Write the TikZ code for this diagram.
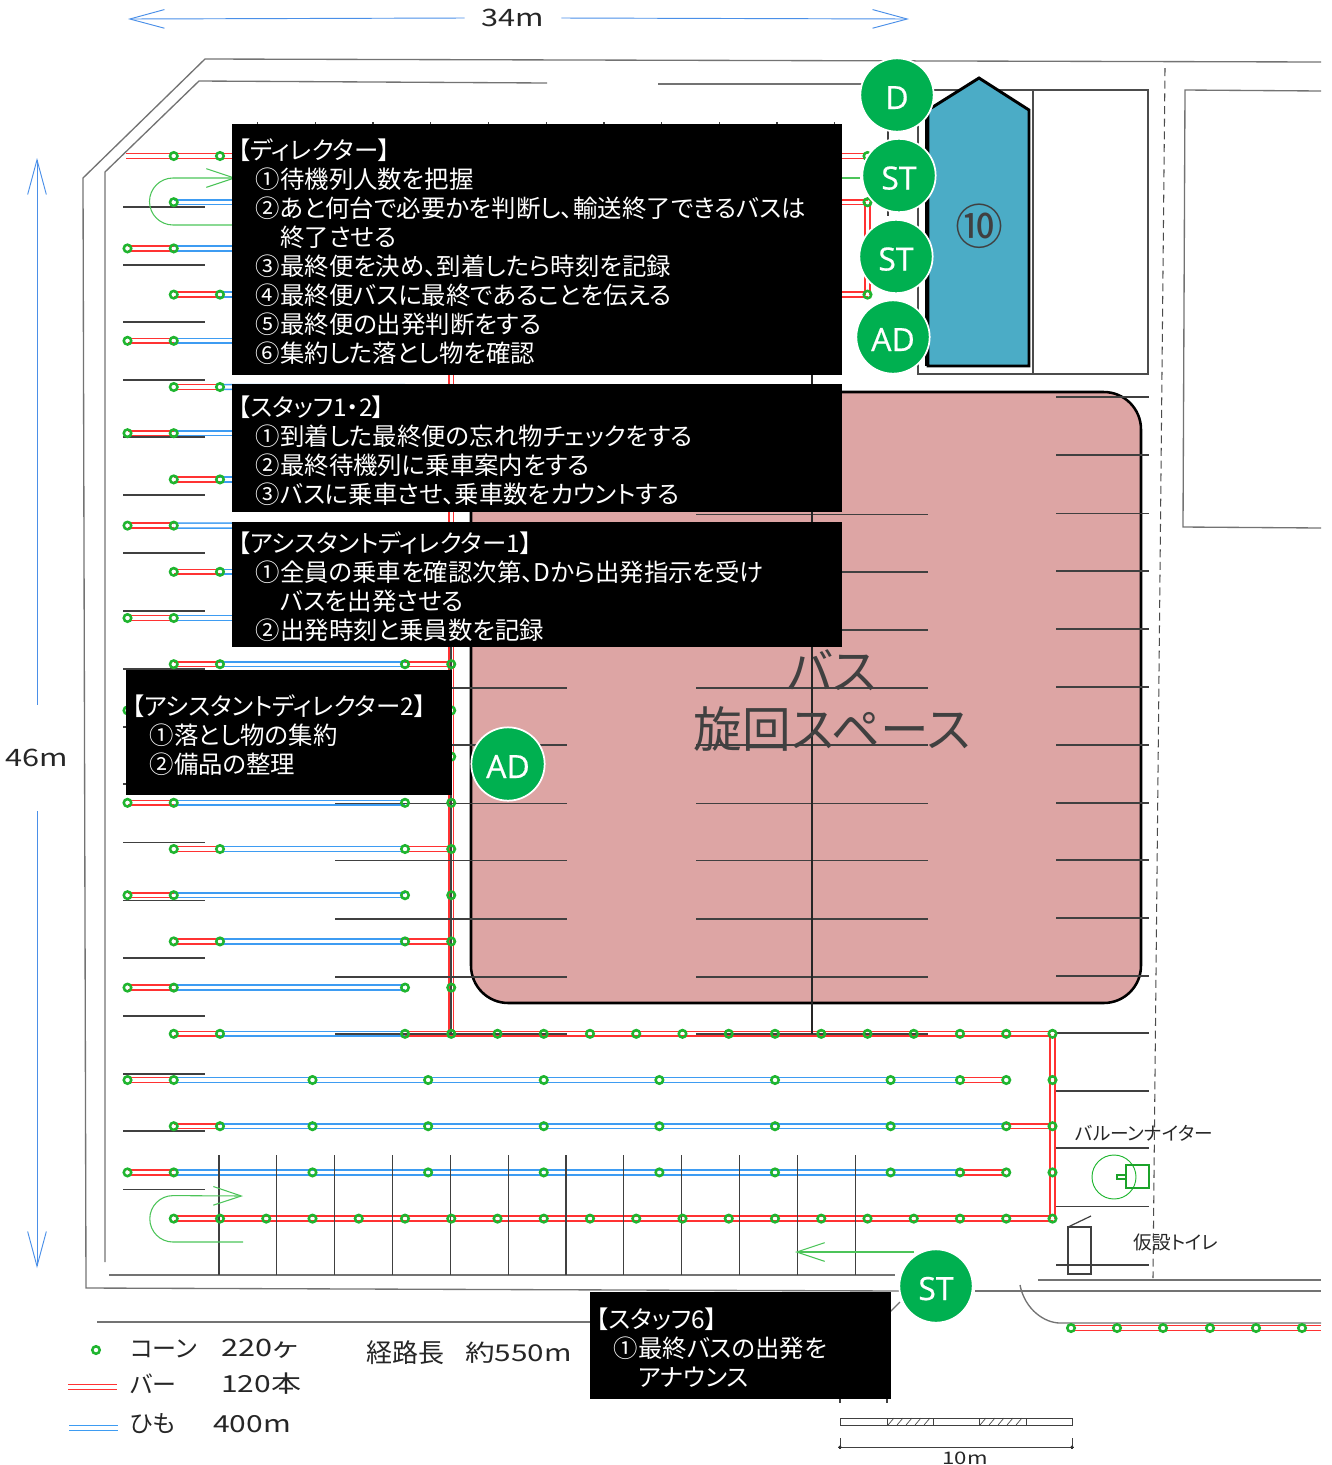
\documentclass[tikz,border=0pt]{standalone}
\usepackage{fontspec}
\setmainfont[RawFeature=+palt]{Noto Sans CJK JP}
\newfontfamily\widefont[RawFeature=+palt,FakeStretch=1.28]{Noto Sans CJK JP}
\newfontfamily\staffont[FakeBold=0.5]{Open Sans}
\usetikzlibrary{arrows.meta}
\definecolor{turnpink}{HTML}{DDA5A4}
\definecolor{busblue}{HTML}{4BACC6}
\definecolor{staffgreen}{HTML}{00B050}
\definecolor{conegreen}{HTML}{1FB52F}
\definecolor{laneblue}{HTML}{3E9CF2}
\definecolor{barred}{HTML}{FF3232}
\definecolor{dimblue}{HTML}{4A8FE8}
\definecolor{inkgray}{HTML}{404040}
\tikzset{
  cone node/.style={circle,draw=conegreen,line width=1.9pt,minimum size=5.6pt,inner sep=0pt},
  staff node/.style={circle,fill=staffgreen,draw=white,line width=1.3pt,minimum size=55pt,inner sep=0pt,text=white,text height=21pt,text depth=0pt,font=\staffont\fontsize{24}{24}\selectfont},
  note box/.style={fill=black,text=white,align=left,anchor=north west,inner xsep=4.5pt,inner ysep=0pt,font=\fontsize{18.3}{21.75}\selectfont},
  bar line/.style={draw=barred,double=white,line width=1.15pt,double distance=2.5pt},
  cord line/.style={draw=laneblue,double=white,line width=1.15pt,double distance=2.5pt},
  lot line/.style={draw=black!75,line width=.9pt},
  site line/.style={draw=black!55,line width=1pt},
  lane line/.style={draw=conegreen!80,line width=.8pt},
  lane arrow/.style={lane line,-{Straight Barb[length=21pt,width=14pt]}},
  dim arrow/.style={draw=dimblue,line width=.7pt,-{Straight Barb[length=26pt,width=14pt]}},
  dim text/.style={text=black!85,inner sep=0pt,font=\widefont\fontsize{18}{18}\selectfont},
  plain text/.style={text=black!85,inner sep=0pt,anchor=west,font=\fontsize{18}{18}\selectfont},
}
\pgfdeclarelayer{under}
\pgfsetlayers{under,main}
% columns step 23.125, rows step 46.2
\newcommand{\conerow}[2]{\foreach \c in {#2} \node[cone node] (c#1-\c) at (127.5+23.125*\c,156+46.2*#1) {};}
\newcommand{\barrun}[3]{\draw[bar line] (c#1-#2.center) -- (c#1-#3.center);}
\newcommand{\cordrun}[3]{\draw[cord line] (c#1-#2.center) -- (c#1-#3.center);}
\newcommand{\notehead}[1]{\rule{0pt}{19pt}#1}
\newcommand{\indA}{\hspace*{.72em}}
\newcommand{\indB}{\hspace*{1.72em}}

\begin{document}
\begin{tikzpicture}[x=.75pt,y=-.75pt]
    \useasboundingbox (0,0) rectangle (1332,1465);
    % Cones
    \conerow{0}{2,4,32}
    \conerow{1}{2,12,32}
    \conerow{3}{2,4,12,14,32}
    \foreach \r in {2,4,6,10,14,16,18} {\conerow{\r}{0,2,12}}
    \foreach \r in {7,9} {\conerow{\r}{2,4,12}}
    \conerow{5}{2,4}
    \conerow{8}{0,2}
    \foreach \r in {11,15,17} {\conerow{\r}{2,4,12,14}}
    \conerow{12}{0,14}
    \conerow{13}{14}
    \conerow{14}{14}
    \conerow{16}{14}
    \conerow{18}{14}
    \conerow{19}{2,4,12,14,16,18,20,22,24,26,28,30,32,34,36,38,40}
    \conerow{20}{0,2,8,13,18,23,28,33,36,38,40}
    \conerow{21}{2,4,8,13,18,23,28,33,38,40}
    \conerow{22}{0,2,8,13,18,23,28,33,36,38,40}
    \conerow{23}{2,4,6,8,10,12,14,16,18,20,22,24,26,28,30,32,34,36,38,40}
    \foreach \n/\x in {1/1071,2/1117,3/1163,4/1210,5/1256,6/1302}
        \node[cone node] (d\n) at (\x,1328) {};
    \coordinate (rowtop) at (126,156);
    \coordinate (rowend) at (1321,1328);
    \coordinate (c5-12) at (405,387);
    \coordinate (c8-12) at (405,525.6);

    \begin{pgfonlayer}{under}
        % Site
        \draw[site line] (1321,62) -- (205,59) -- (83,178) -- (86,1288) -- (900,1291);
        \draw[site line] (975,1291) -- (1321,1291);
        \draw[site line] (547,83) -- (199,81) -- (105,172) -- (105,1262);
        \draw[site line] (658,84) -- (862,84);
        \draw[site line] (109,1275) -- (895,1275);
        \draw[site line] (1038,1280) -- (1321,1280);
        \draw[site line] (97,1322) -- (590,1322);
        \draw[site line] (1020,1285) .. controls (1025,1310) and (1045,1323) .. (1060,1323) -- (1321,1323);
        \draw[site line] (890,1312) -- (900,1302);
        \draw[site line] (1321,91) -- (1185,90) -- (1183,527) -- (1321,528);
        \draw[black!70,line width=.8pt,dash pattern=on 6pt off 3.5pt] (1165,68) -- (1153,1278);
        \draw[line width=1pt,black!70] (918,90) rectangle (1148,374);
        \draw[line width=1pt,black!70] (1033,90) -- (1033,374);
        % Turning space
        \draw[fill=turnpink,draw=black,line width=1.9pt,rounded corners=28pt] (471,392) rectangle (1141,1003);
        % Bars and cords
        \draw[bar line] (rowtop) -- (c0-2.center) -- (c0-4.center) -- (c0-32.center);
        \cordrun{1}{2}{12}
        \barrun{1}{12}{32}
        \barrun{3}{2}{4}
        \cordrun{3}{4}{12}
        \barrun{3}{12}{32}
        \foreach \r in {2,4,6,8,10,14,16,18} {\barrun{\r}{0}{2} \cordrun{\r}{2}{12}}
        \foreach \r in {5,7,9} {\barrun{\r}{2}{4} \cordrun{\r}{4}{12}}
        \foreach \r in {11,15,17} {\barrun{\r}{2}{4} \cordrun{\r}{4}{12} \barrun{\r}{12}{14}}
        \barrun{19}{2}{4}
        \cordrun{19}{4}{12}
        \barrun{19}{12}{40}
        \foreach \r in {20,22} {\barrun{\r}{0}{2} \cordrun{\r}{2}{36} \barrun{\r}{36}{38}}
        \barrun{21}{2}{4}
        \cordrun{21}{4}{38}
        \barrun{21}{38}{40}
        \barrun{23}{2}{40}
        \draw[bar line] (c1-32.center) -- (c3-32.center);
        \draw[bar line] (c3-14.center) -- (c19-14.center);
        \draw[bar line] (c19-40.center) -- (c23-40.center);
        \draw[bar line] (d1.center) -- (rowend);
        % Parking lots
        \foreach \y in {207,265,322,380,437,495,553,611,669,727,784,842.5,900.5,958,1016,1074,1131,1189.5}
            \draw[lot line] (123,\y) -- (205,\y);
        \foreach \y in {688,745,803.5,860.5,919,977,1034}
            \draw[lot line] (335,\y) -- (567,\y);
        \foreach \y in {514.5,572,630,688,745,803.5,860.5,919,977,1034}
            \draw[lot line] (696,\y) -- (928,\y);
        \foreach \y in {397,455,513.5,571,629,687,745,803,860,918,976,1033,1091,1148,1206.5,1265}
            \draw[lot line] (1056,\y) -- (1149,\y);
        \foreach \x in {219,276.8,334.6,392.5,450.3,508.1,566,623.8,681.6,739.5,797.3,855.1}
            \draw[lot line] (\x,1155) -- (\x,1275);
        \foreach \x in {257.7,315.4,373,430.8,488.5,546.2,604,661.7,719.4,777,834.8}
            \draw[lot line] (\x,122) -- (\x,200);
        \draw[lot line] (888,125) -- (888,216);
        \draw[lot line] (840,1395) -- (840,1403);
        \draw[lot line] (887,1395) -- (887,1403);
        \draw[lot line] (451,645) -- (451,1034);
        \draw[black!85,line width=1.4pt] (812,375) -- (812,1034);
        % Balloon light and toilet
        \draw[draw=conegreen,line width=.7pt] (1114,1177) circle (22);
        \draw[draw=conegreen!90!black,line width=.8pt] (1126,1165) rectangle (1149,1188);
        \draw[draw=conegreen!90!black,line width=.8pt] (1117,1175) rectangle (1126,1179);
        \draw[lot line] (1068,1227) rectangle (1091,1274);
        \draw[lot line] (1068,1227) -- (1091,1216);
        % Lanes
        \draw[lane arrow] (233,225) -- (173,225) arc (90:270:23.5) -- (236,178);
        \draw[lane line] (236,178) -- (860,178);
        \draw[lane arrow] (243,1242) -- (173,1242) arc (90:270:23.2) -- (243,1196);
        \draw[lane arrow] (914,1252) -- (795,1252);
    \end{pgfonlayer}

    % Bus
    \draw[fill=busblue,draw=black,line width=2.2pt] (928,366) -- (928,110) -- (979,78) -- (1029,110) -- (1029,366) -- cycle;
    \draw[black,line width=2.2pt] (926.5,366) -- (926.5,112);
    \node[text=inkgray,inner sep=0pt,font=\fontsize{36}{36}\selectfont] (busNo) at (979,226) {⑩};
    \node[text=inkgray,align=center,inner sep=0pt,font=\fontsize{36.5}{43.5}\selectfont] (turnText) at (832,701) {バス\\旋回スペース};

    % Notes
    \node[note box,text width=448.5pt,minimum height=188.25pt] (noteDirector) at (232,124) {\notehead{【ディレクター】}\\
        \indA①待機列人数を把握\\
        \indA②あと何台で必要かを判断し、輸送終了できるバスは\\
        \indB 終了させる\\
        \indA③最終便を決め、到着したら時刻を記録\\
        \indA④最終便バスに最終であることを伝える\\
        \indA⑤最終便の出発判断をする\\
        \indA⑥集約した落とし物を確認};
    \node[note box,text width=448.5pt,minimum height=96pt] (noteStaff) at (232,384) {\notehead{【スタッフ1・2】}\\
        \indA①到着した最終便の忘れ物チェックをする\\
        \indA②最終待機列に乗車案内をする\\
        \indA③バスに乗車させ、乗車数をカウントする};
    \node[note box,text width=448.5pt,minimum height=93.75pt] (noteAssistA) at (232,522) {\notehead{【アシスタントディレクター1】}\\
        \indA①全員の乗車を確認次第、Dから出発指示を受け\\
        \indB バスを出発させる\\
        \indA②出発時刻と乗員数を記録};
    \node[note box,text width=235.5pt,minimum height=93.75pt] (noteAssistB) at (126,670) {\notehead{【アシスタントディレクター2】}\\
        \indA①落とし物の集約\\
        \indA②備品の整理};
    \node[note box,text width=216.75pt,minimum height=80.25pt] (noteStaffSix) at (590,1292) {\notehead{【スタッフ6】}\\
        \indA①最終バスの出発を\\
        \indB アナウンス};

    % Staff
    \node[staff node] (staffD) at (897,95) {D};
    \node[staff node] (staffA) at (899,175.5) {ST};
    \node[staff node] (staffB) at (896,256.5) {ST};
    \node[staff node] (staffAD) at (893,337) {AD};
    \node[staff node] (staffADB) at (508,764) {AD};
    \node[staff node] (staffC) at (936,1286) {ST};

    % Dimensions
    \node[dim text,minimum width=72pt] (dimWidth) at (513,18) {34m};
    \coordinate (dimWest) at (128,19);
    \coordinate (dimEast) at (909,19);
    \draw[dim arrow] (dimWidth.west) -- (dimWest);
    \draw[dim arrow] (dimWidth.east) -- (dimEast);
    \node[dim text,minimum height=79.5pt] (dimHeight) at (37,758) {46m};
    \coordinate (dimNorth) at (37,158);
    \coordinate (dimSouth) at (37,1268);
    \draw[dim arrow] (dimHeight.north) -- (dimNorth);
    \draw[dim arrow] (dimHeight.south) -- (dimSouth);

    % Labels
    \node[text=black!85,inner sep=0pt,font=\fontsize{14}{14}\selectfont] (lblBalloon) at (1144,1133) {バルーンナイター};
    \node[text=black!85,inner sep=0pt,font=\fontsize{14}{14}\selectfont] (lblToilet) at (1176,1242) {仮設トイレ};

    % Legend
    \node[cone node] (legCone) at (96,1350) {};
    \coordinate (legBarA) at (68,1387);
    \coordinate (legBarB) at (117,1387);
    \coordinate (legCordA) at (69,1428);
    \coordinate (legCordB) at (118,1428);
    \draw[bar line] (legBarA) -- (legBarB);
    \draw[cord line] (legCordA) -- (legCordB);
    \node[plain text] (legConeText) at (130,1349) {コーン};
    \node[plain text,font=\widefont\fontsize{18}{18}\selectfont] (legConeNum) at (221,1349) {220ヶ};
    \node[plain text] (legBarText) at (130,1384) {バー};
    \node[plain text,font=\widefont\fontsize{17.6}{18}\selectfont] (legBarNum) at (221,1384) {120本};
    \node[plain text] (legCordText) at (130,1424) {ひも};
    \node[plain text,font=\widefont\fontsize{17.6}{18}\selectfont] (legCordNum) at (213,1424) {400m};
    \node[plain text,font=\fontsize{19.5}{19.5}\selectfont] (legRoute) at (366,1353) {経路長};
    \node[plain text,font=\widefont\fontsize{17.4}{18}\selectfont] (legRouteNum) at (465,1353) {約550m};

    % Scale
    \draw[line width=.7pt,black!75] (840,1418) rectangle (1072,1425);
    \foreach \x in {887,933,979,1026}
        \draw[line width=.7pt,black!75] (\x,1418) -- (\x,1425);
    \foreach \x in {888,897,906,915,924,980,989,998,1007,1016}
        \draw[line width=.5pt,black!75] (\x,1425) -- (\x+6,1418);
    \node[cone node,draw=black!80,fill=black!80,line width=0pt,minimum size=2.6pt] (scaleA) at (840,1447) {};
    \node[cone node,draw=black!80,fill=black!80,line width=0pt,minimum size=2.6pt] (scaleB) at (1072,1447) {};
    \draw[line width=.7pt,black!75] (scaleA) -- (scaleB);
    \draw[line width=.7pt,black!75] (scaleA) -- (840,1438);
    \draw[line width=.7pt,black!75] (scaleB) -- (1072,1438);
    \node[dim text,font=\widefont\fontsize{13}{13}\selectfont] (scaleText) at (965,1458) {10m};
\end{tikzpicture}
\end{document}
